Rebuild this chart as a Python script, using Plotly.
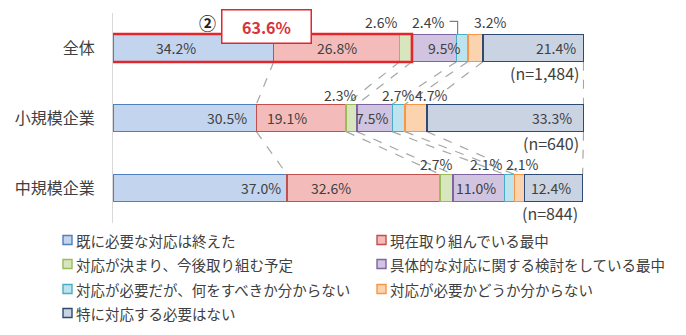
import plotly.graph_objects as go

# ---- data ----
categories = ["全体", "小規模企業", "中規模企業"]
sample_sizes = ["(n=1,484)", "(n=640)", "(n=844)"]
series_names = [
    "既に必要な対応は終えた",
    "現在取り組んでいる最中",
    "対応が決まり、今後取り組む予定",
    "具体的な対応に関する検討をしている最中",
    "対応が必要だが、何をすべきか分からない",
    "対応が必要かどうか分からない",
    "特に対応する必要はない",
]
done = [34.2, 30.5, 37.0]
in_progress = [26.8, 19.1, 32.6]
planned = [2.6, 2.3, 2.7]
considering = [9.5, 7.5, 11.0]
unsure_what = [2.4, 2.7, 2.1]
unsure_need = [3.2, 4.7, 2.1]
not_needed = [21.4, 33.3, 12.4]
series_values = [done, in_progress, planned, considering, unsure_what, unsure_need, not_needed]

# ---- style ----
W, H = 686, 335
ML, MR, MT, MB = 113, 102, 13, 112
PW, PH = W - ML - MR, H - MT - MB
fills = ["#c3d4ef", "#f3bcbb", "#d8e6be", "#d0c4e0", "#bde3ee", "#fbd3ae", "#cad3e2"]
edges = ["#4f7fbf", "#c0504d", "#9bbb59", "#8064a2", "#4bacc6", "#f79646", "#2c4a74"]
outside_series = {2, 4, 5}          # narrow segments labelled above the bar
inside_shift = {                     # pixel offsets of in-bar labels from segment centre
    (0, 0): -17, (0, 1): 0, (0, 3): 10, (0, 6): 23,
    (1, 0): 42, (1, 1): -14, (1, 3): -3, (1, 6): 47,
    (2, 0): 61, (2, 1): -33, (2, 3): -3, (2, 6): -2,
}
outside_shift = {
    (0, 2): -25, (0, 4): -34, (0, 5): 15,
    (1, 2): -12, (1, 4): -1, (1, 5): 15,
    (2, 2): -11, (2, 4): -24, (2, 5): 3,
}
outside_yshift = [0, -3, -2]
FONT = "Noto Sans CJK JP"
TXT = "#404040"
BAR_W = 0.39
ypos = list(range(len(categories)))


def px_x(px):
    return (px - ML) / PW


def px_y(py):
    return (H - MB - py) / PH


fig = go.Figure()
for name, vals, fc, ec in zip(series_names, series_values, fills, edges):
    fig.add_trace(go.Bar(
        y=ypos, x=vals, orientation="h", name=name, width=BAR_W,
        marker=dict(color=fc, line=dict(color=ec, width=1.4)),
        hoverinfo="x+name", showlegend=False,
    ))

# cumulative boundaries per row
cums = []
for r in range(len(categories)):
    acc, row = 0.0, [0.0]
    for vals in series_values:
        acc += vals[r]
        row.append(acc)
    cums.append(row)

shapes = []
annotations = []

# dashed series lines between neighbouring bars
for r in range(len(categories) - 1):
    for k in range(1, len(series_values) + 1):
        shapes.append(dict(
            type="line", xref="x", yref="y",
            x0=cums[r][k], y0=r + BAR_W / 2, x1=cums[r + 1][k], y1=r + 1 - BAR_W / 2,
            line=dict(color="#a6a6a6", width=1.2, dash="dash"), layer="below",
        ))

# value labels
for r in range(len(categories)):
    for s, vals in enumerate(series_values):
        centre = cums[r][s] + vals[r] / 2
        label = f"{vals[r]:.1f}%"
        if s in outside_series:
            annotations.append(dict(
                x=centre, y=r - BAR_W / 2, xref="x", yref="y", text=label,
                showarrow=False, yanchor="bottom", xshift=outside_shift[(r, s)],
                yshift=outside_yshift[r], font=dict(family=FONT, size=14, color=TXT),
            ))
        else:
            annotations.append(dict(
                x=centre, y=r, xref="x", yref="y", text=label, showarrow=False,
                xshift=inside_shift[(r, s)], font=dict(family=FONT, size=14, color=TXT),
            ))
    annotations.append(dict(
        x=cums[r][-1], y=r + BAR_W / 2, xref="x", yref="y", text=sample_sizes[r],
        showarrow=False, xanchor="right", yanchor="top", xshift=-3, yshift=3,
        font=dict(family=FONT, size=16, color=TXT),
    ))

# leader line for the "2.4%" label on the first row
shapes.append(dict(
    type="path", xref="x", yref="y", xsizemode="pixel", ysizemode="pixel",
    xanchor=cums[0][4], yanchor=-BAR_W / 2,
    path="M -7,13 L 1,13 L 1,0",
    line=dict(color="#808080", width=1.2),
))

# highlight of the first three series on the overall bar
highlight_total = sum(v[0] for v in series_values[:3])
shapes.append(dict(
    type="rect", xref="x", yref="y", x0=-0.3, x1=highlight_total,
    y0=-BAR_W / 2 - 0.005, y1=BAR_W / 2 + 0.005,
    line=dict(color="#e3262c", width=2.6), fillcolor="rgba(0,0,0,0)",
))
annotations.append(dict(
    x=highlight_total / 2, y=-BAR_W / 2, xref="x", yref="y",
    text=f"<b>{highlight_total:.1f}%</b>", showarrow=False, xshift=4, yshift=8,
    width=86, height=30, bgcolor="white", bordercolor="#e3262c", borderwidth=1.5,
    font=dict(family=FONT, size=16, color="#d7333a"),
))
annotations.append(dict(
    x=highlight_total / 2, y=-BAR_W / 2, xref="x", yref="y", text="<b>②</b>",
    showarrow=False, xshift=-55, yshift=12,
    font=dict(family=FONT, size=17, color="#222222"),
))

# two-column legend below the chart
legend_cols = [63, 377]
legend_rows = [240, 264, 289, 313]
for i, (name, fc, ec) in enumerate(zip(series_names, fills, edges)):
    cx = legend_cols[i % 2]
    cy = legend_rows[i // 2]
    shapes.append(dict(
        type="rect", xref="paper", yref="paper",
        x0=px_x(cx), x1=px_x(cx + 9), y0=px_y(cy + 4.5), y1=px_y(cy - 4.5),
        fillcolor=fc, line=dict(color=ec, width=1.4),
    ))
    annotations.append(dict(
        x=px_x(cx + 11), y=px_y(cy), xref="paper", yref="paper", text=name,
        showarrow=False, xanchor="left", yanchor="middle",
        font=dict(family=FONT, size=14.5, color=TXT),
    ))

fig.update_layout(
    barmode="stack",
    width=W, height=H,
    margin=dict(l=ML, r=MR, t=MT, b=MB, autoexpand=False),
    paper_bgcolor="white", plot_bgcolor="white",
    xaxis=dict(range=[0, 100.2], visible=False, fixedrange=True),
    yaxis=dict(
        range=[len(categories) - 0.5, -0.5], tickvals=ypos, ticktext=categories,
        showline=True, linecolor="#d9d9d9", linewidth=1, showgrid=False,
        zeroline=False, ticks="", ticklabelstandoff=14,
        tickfont=dict(family=FONT, size=16, color=TXT), fixedrange=True,
    ),
    showlegend=False,
    shapes=shapes,
    annotations=annotations,
)

fig.write_html("out.html")
